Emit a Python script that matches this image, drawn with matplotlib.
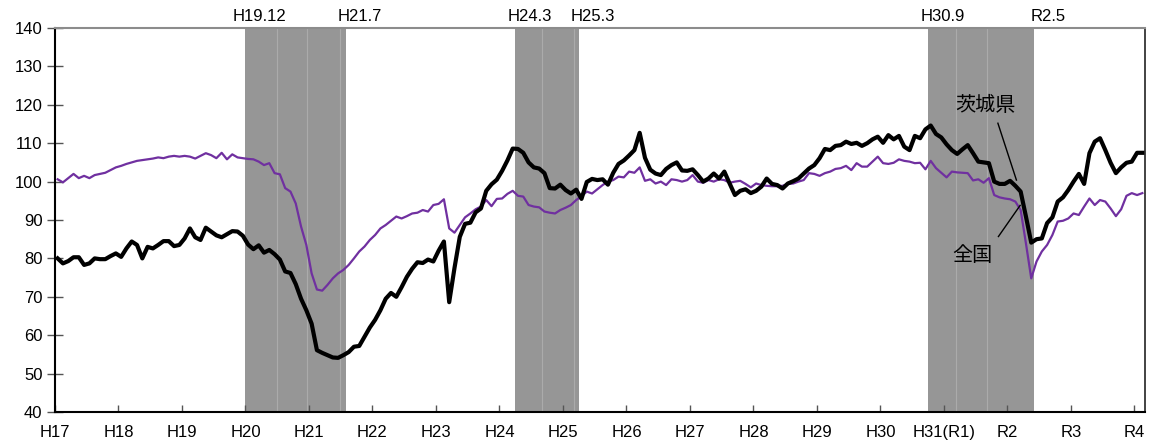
import matplotlib
matplotlib.use("Agg")
import matplotlib.pyplot as plt
import numpy as np

# ---------------- data ----------------
ibaraki = [
    80.0, 78.7, 79.3, 80.3, 80.3, 78.3, 78.7, 80.0, 79.8, 79.8, 80.6, 81.3,
    80.4, 82.6, 84.4, 83.5, 80.0, 83.0, 82.6, 83.5, 84.5, 84.5, 83.2, 83.5,
    85.2, 87.8, 85.5, 84.8, 88.0, 87.0, 86.0, 85.5, 86.3, 87.1, 87.0, 85.9,
    83.6, 82.4, 83.4, 81.5, 82.2, 81.1, 79.7, 76.6, 76.2, 73.3, 69.5, 66.5,
    63.0, 56.1, 55.4, 54.8, 54.2, 54.1, 54.8, 55.6, 57.0, 57.2, 59.6, 62.0,
    64.0, 66.5, 69.5, 71.0, 70.0, 72.5, 75.2, 77.3, 79.0, 78.8, 79.7, 79.2,
    82.0, 84.4, 68.6, 77.5, 85.6, 89.0, 89.3, 92.0, 93.0, 97.6, 99.3, 100.5,
    102.8, 105.5, 108.6, 108.5, 107.5, 105.0, 103.7, 103.4, 102.2, 98.3, 98.2, 99.2,
    97.8, 96.9, 97.9, 95.5, 99.9, 100.7, 100.4, 100.6, 99.2, 102.3, 104.6, 105.5,
    106.8, 108.2, 112.7, 106.2, 103.1, 102.1, 101.7, 103.3, 104.3, 105.0, 102.9, 102.8,
    103.2, 101.7, 100.0, 100.8, 102.1, 100.8, 102.6, 99.5, 96.5, 97.6, 98.0, 97.0,
    97.6, 98.7, 100.8, 99.4, 99.1, 98.2, 99.5, 100.1, 100.8, 102.1, 103.4, 104.3,
    106.1, 108.5, 108.2, 109.3, 109.5, 110.4, 109.8, 110.1, 109.3, 110.0, 111.0, 111.7,
    110.1, 112.1, 111.0, 111.9, 109.1, 108.2, 111.9, 111.3, 113.6, 114.6, 112.4, 111.5,
    109.7, 108.2, 107.2, 108.4, 109.5, 107.4, 105.2, 105.0, 104.8, 100.0, 99.4, 99.4,
    100.2, 98.9, 97.4, 90.9, 84.1, 85.0, 85.2, 89.2, 90.7, 94.8, 95.9, 97.8,
    100.0, 102.0, 99.4, 107.4, 110.4, 111.3, 108.2, 104.9, 102.2, 103.7, 104.9, 105.2,
    107.5, 107.5,
]

zenkoku = [
    100.6, 99.8, 100.9, 102.0, 100.9, 101.5, 100.9, 101.7, 102.0, 102.3, 103.0, 103.7,
    104.1, 104.6, 105.0, 105.4, 105.6, 105.8, 106.0, 106.3, 106.1, 106.5, 106.7, 106.5,
    106.7, 106.5, 106.0, 106.7, 107.4, 106.9, 106.1, 107.5, 105.8, 107.1, 106.3, 106.1,
    105.9, 105.8, 105.2, 104.3, 104.8, 102.2, 101.9, 98.3, 97.4, 94.3, 88.3, 83.5,
    76.1, 71.9, 71.6, 73.1, 74.8, 76.1, 77.0, 78.3, 80.0, 81.8, 83.1, 84.8,
    86.1, 87.8, 88.7, 89.8, 90.9, 90.4, 91.0, 91.7, 91.9, 92.6, 92.2, 93.9,
    94.2, 95.4, 87.8, 86.7, 88.7, 90.7, 91.7, 92.8, 93.5, 95.2, 93.6, 95.5,
    95.6, 96.8, 97.6, 96.3, 96.1, 93.9, 93.5, 93.3, 92.2, 91.9, 91.7, 92.6,
    93.2, 93.9, 95.2, 96.2, 97.4, 96.9, 98.0, 99.1, 100.0, 100.4, 101.3, 101.1,
    102.6, 102.3, 103.7, 100.2, 100.6, 99.5, 100.0, 99.1, 100.6, 100.4, 100.0, 100.4,
    101.7, 100.0, 99.7, 100.4, 100.0, 100.6, 100.4, 99.7, 100.0, 100.2, 99.4, 98.5,
    99.5, 99.1, 98.9, 98.8, 98.8, 98.9, 99.4, 99.5, 100.0, 100.4, 102.2, 102.0,
    101.5, 102.2, 102.6, 103.3, 103.5, 104.1, 103.0, 104.8, 103.9, 103.9, 105.2, 106.5,
    104.8, 104.6, 104.9, 105.8, 105.4, 105.2, 104.8, 104.9, 103.2, 105.4, 103.5, 102.3,
    101.1, 102.6, 102.4, 102.3, 102.2, 100.3, 100.6, 99.7, 100.9, 96.5, 95.9, 95.6,
    95.4, 94.8, 92.6, 83.9, 74.8, 79.2, 81.8, 83.5, 86.1, 89.6, 89.8, 90.4,
    91.7, 91.3, 93.5, 95.6, 93.9, 95.2, 94.8, 93.0, 91.0, 92.8, 96.3, 97.0,
    96.5, 97.0,
]

year_labels = ["H17", "H18", "H19", "H20", "H21", "H22", "H23", "H24", "H25",
               "H26", "H27", "H28", "H29", "H30", "H31(R1)", "R2", "R3", "R4"]

# recession periods: (peak month index, trough month index) from Jan 2005
peaks = [35, 86, 164]      # H19.12, H24.3, H30.9
troughs = [54, 98, 184]    # H21.7, H25.3, R2.5
peak_labels = ["H19.12", "H24.3", "H30.9"]
trough_labels = ["H21.7", "H25.3", "R2.5"]

series_names = ["茨城県", "全国"]

# ---------------- figure ----------------
W, H = 1151, 444
fig = plt.figure(figsize=(W / 100, H / 100), dpi=100)
ax = fig.add_axes([55 / W, 1 - 412 / H, (1145 - 55) / W, (412 - 28) / H])

n = len(ibaraki)
x = np.arange(n) + 0.5

shade = "#969696"
for p, t in zip(peaks, troughs):
    ax.axvspan(p + 1, t + 1, color=shade, lw=0, zorder=1)

# faint seams inside shaded bands (rendering artefacts of the original)
for s in [41.97, 47.6, 53.9, 92.0, 98.1, 170.2, 176.1]:
    ax.axvline(s, color="#ababab", lw=0.8, zorder=1.5)

ax.plot(x, zenkoku, color="#7030A0", lw=1.6, zorder=3, solid_joinstyle="round")
ax.plot(x, ibaraki, color="black", lw=3.0, zorder=4, solid_joinstyle="round")

ax.set_xlim(0, n)
ax.set_ylim(40, 140)
ax.set_yticks(np.arange(40, 141, 10))
ax.set_xticks(np.arange(len(year_labels)) * 12)
ax.set_xticklabels(year_labels)

tick_family = ["Liberation Sans", "DejaVu Sans"]
for lab in ax.get_xticklabels() + ax.get_yticklabels():
    lab.set_fontfamily(tick_family)
    lab.set_fontsize(12)

ax.tick_params(axis="x", direction="in", length=5, width=1, pad=9, color="#555555")
ax.tick_params(axis="y", direction="inout", length=12, width=1, pad=3, color="#555555")

for side in ["left", "bottom"]:
    ax.spines[side].set_color("black")
    ax.spines[side].set_linewidth(1.5)
ax.spines["top"].set_color("#8c8c8c")
ax.spines["top"].set_linewidth(1.5)
ax.spines["right"].set_color("#222222")
ax.spines["right"].set_linewidth(1.2)

# labels above the shaded bands
for p, t, pl, tl in zip(peaks, troughs, peak_labels, trough_labels):
    ax.text(p + 1 + 2.7, 1.029, pl, transform=ax.get_xaxis_transform(),
            ha="center", va="center", fontsize=12, family=tick_family, clip_on=False)
    ax.text(t + 1 + 2.7, 1.029, tl, transform=ax.get_xaxis_transform(),
            ha="center", va="center", fontsize=12, family=tick_family, clip_on=False)

cjk = ["Noto Sans CJK JP", "DejaVu Sans"]
ax.text(175.8, 119.9, series_names[0], ha="center", va="center",
        fontsize=14.5, family=cjk, zorder=6)
ax.plot([178.2, 181.7], [115.2, 100.4], color="black", lw=1.0, zorder=6)
ax.text(173.4, 80.7, series_names[1], ha="center", va="center",
        fontsize=14.5, family=cjk, zorder=6)
ax.plot([178.3, 182.4], [85.7, 93.8], color="black", lw=1.0, zorder=6)

fig.savefig("out.png", dpi=100)
